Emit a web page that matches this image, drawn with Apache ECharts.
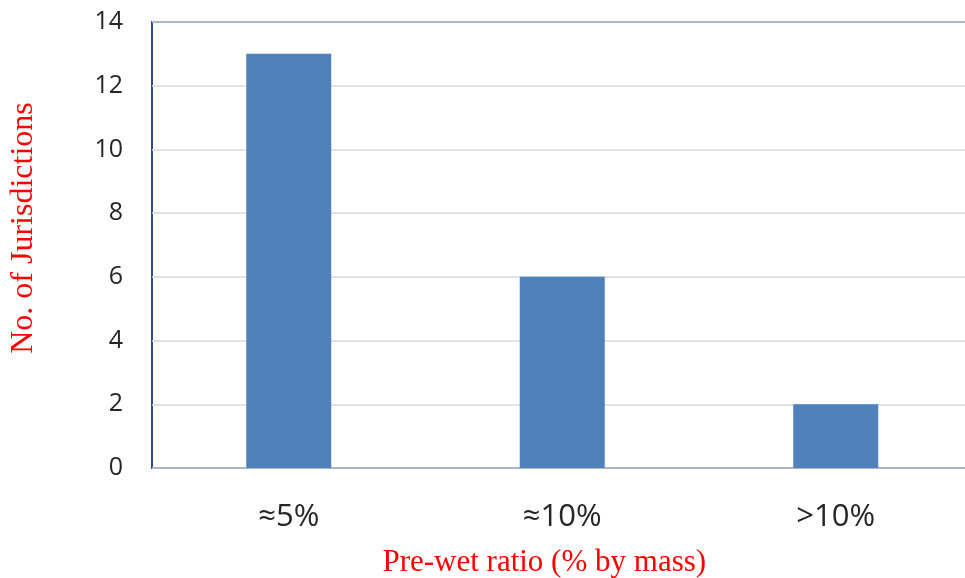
<!DOCTYPE html>
<html>
<head>
<meta charset="utf-8">
<style>
  html, body { margin: 0; padding: 0; background: #ffffff; }
  #chart { width: 965px; height: 578px; }
</style>
<script src="https://cdn.jsdelivr.net/npm/echarts@6/dist/echarts.min.js"></script>
</head>
<body>
<div id="chart"></div>
<script>
// Pre-wet ratio categories and the number of jurisdictions using each
const categories = ['≈5%', '≈10%', '>10%'];
const jurisdictions = [13, 6, 2];
const yTicks = { min: 0, max: 14, interval: 2 };

const xTitle = 'Pre-wet ratio (% by mass)';
const yTitle = 'No. of Jurisdictions';

const chart = echarts.init(document.getElementById('chart'), null, { renderer: 'canvas' });

chart.setOption({
  animation: false,
  backgroundColor: '#ffffff',
  grid: {
    left: 152,
    top: 22,
    bottom: 110,
    right: -7.5,
    containLabel: false,
    outerBoundsMode: 'none',
    show: true,
    borderColor: '#2F4F8C',
    borderWidth: 2,
    backgroundColor: 'transparent'
  },
  xAxis: {
    type: 'category',
    data: categories,
    axisLine: { show: false },
    axisTick: { show: false },
    axisLabel: {
      margin: 34,
      fontFamily: 'Open Sans',
      fontSize: 31,
      color: '#262626'
    },
    name: xTitle,
    nameLocation: 'middle',
    nameGap: 79,
    nameTextStyle: {
      fontFamily: 'Liberation Serif',
      fontSize: 31,
      color: '#FF0000',
      padding: [0, 36, 0, 0]
    }
  },
  yAxis: {
    type: 'value',
    min: yTicks.min,
    max: yTicks.max,
    interval: yTicks.interval,
    axisLine: { show: false },
    axisTick: { show: false },
    splitLine: { lineStyle: { color: '#D9D9D9', width: 1.5 } },
    axisLabel: {
      margin: 29,
      fontFamily: 'Open Sans',
      fontSize: 25,
      color: '#262626'
    },
    name: yTitle,
    nameLocation: 'middle',
    nameGap: 112,
    nameTextStyle: {
      fontFamily: 'Liberation Serif',
      fontSize: 32,
      color: '#FF0000',
      padding: [0, 0, 0, 34]
    }
  },
  series: [{
    type: 'bar',
    data: jurisdictions,
    barWidth: 85,
    itemStyle: { color: '#4F81BD' }
  }]
});
</script>
</body>
</html>
